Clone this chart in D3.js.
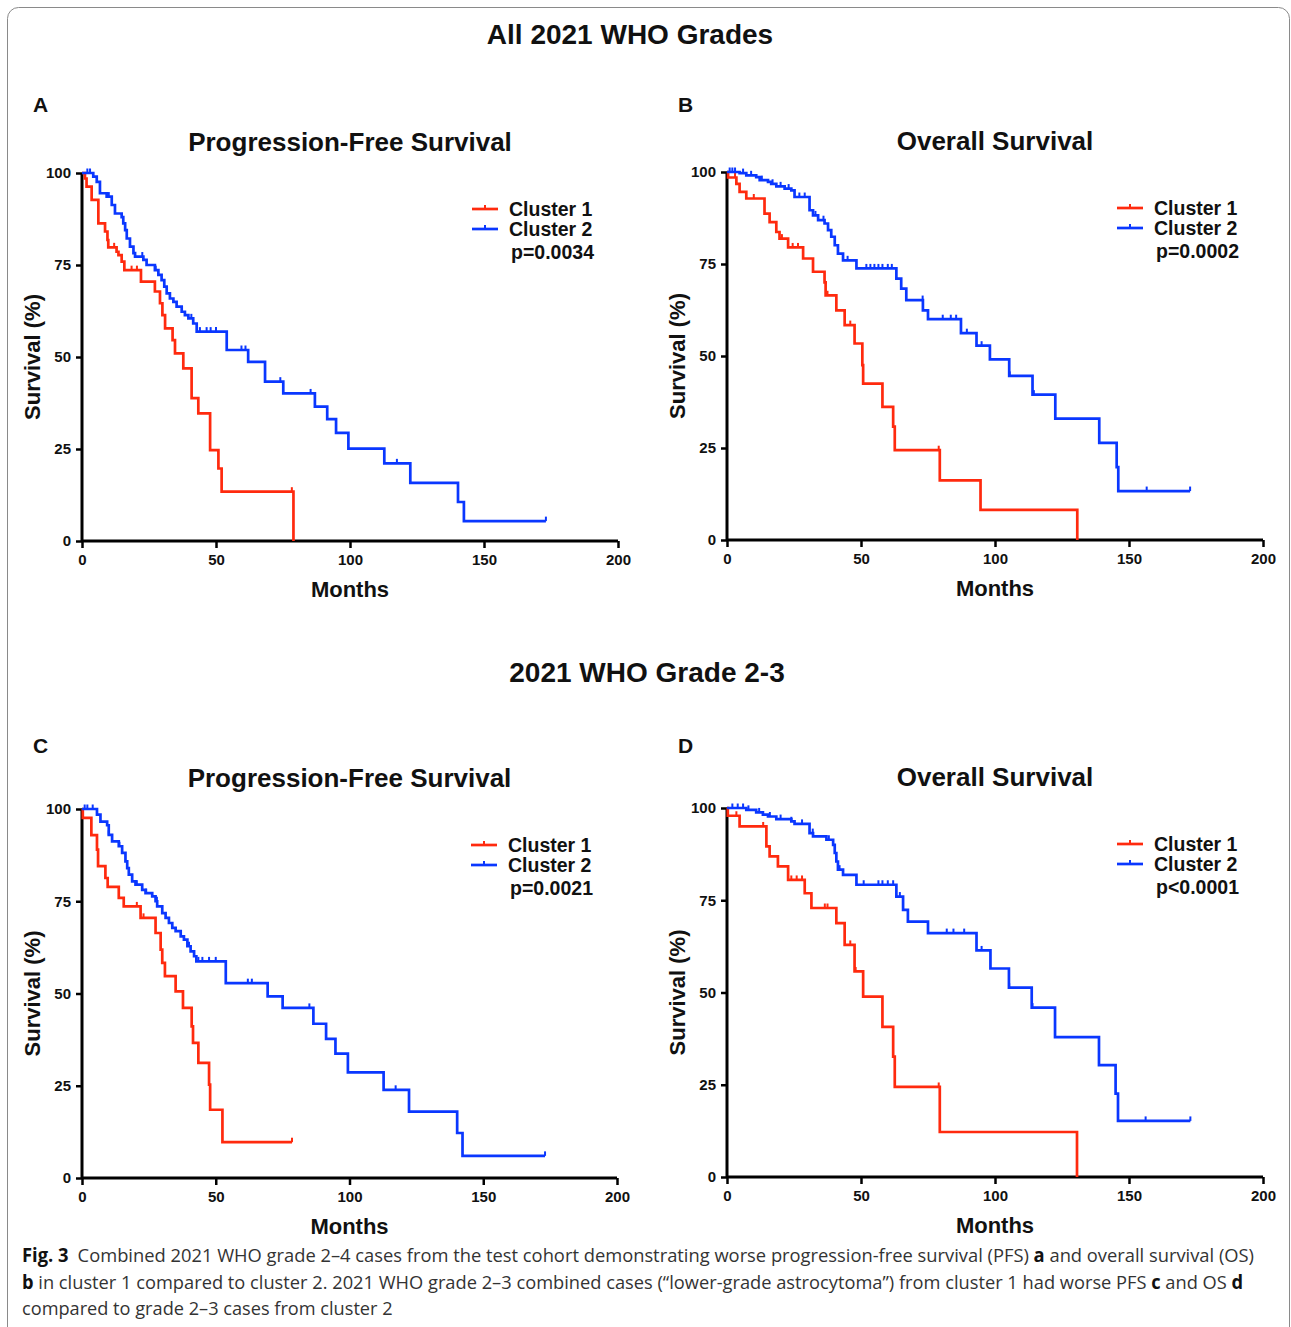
<!DOCTYPE html>
<html>
<head>
<meta charset="utf-8">
<script src="https://cdn.jsdelivr.net/npm/d3@7"></script>
<style>
  body { margin: 0; background: #fff; }
  svg text { font-family: 'Liberation Sans', Arial, Helvetica, sans-serif; fill: #111; }
</style>
</head>
<body>
<svg id="fig" width="1291" height="1327"></svg>
<script>
// x ticks / y ticks shared by all four panels
var xTicks = [0, 50, 100, 150, 200]
var yTicks = [0, 25, 50, 75, 100]
var seriesNames = ['Cluster 1', 'Cluster 2']

// Panel A: PFS, all grades  [months, survival %]
var pfsAllC1 = [[0, 100], [1.1, 98.5], [1.7, 96.3], [3.6, 92.7], [6.1, 86.3], [8.6, 84.1], [9.5, 81.8], [9.8, 79.8],
  [12.9, 78.6], [13.6, 77.7], [14.8, 75.9], [15.8, 73.6], [22, 70.5], [27.2, 67.8], [29.1, 64.6], [30, 61.4],
  [31, 57.8], [33.8, 54.6], [34.7, 51], [37.8, 46.9], [40.9, 38.8], [43.4, 34.7], [47.8, 24.7], [50.9, 19.7],
  [52.1, 13.4], [78.9, 0]]
var pfsAllC2 = [[0, 100], [4.2, 99], [5.5, 97.6], [6.7, 94.5], [9.2, 93.6], [11.1, 91.3], [12.3, 89], [14.8, 88],
  [15.4, 86.3], [16.1, 84.5], [16.7, 82.2], [17.9, 80], [19.2, 78.2], [19.8, 77.3], [22.9, 76.4], [24.1, 75],
  [27.2, 73.6], [28.5, 72.3], [29.7, 70.9], [30.7, 69.1], [31.6, 67.3], [32.8, 65.9], [34.1, 65], [35.3, 63.7],
  [37.2, 62.3], [38.4, 61.4], [39.7, 60.5], [41.5, 59.1], [42.8, 56.9], [54, 51.9], [62, 48.7], [68.3, 43.3],
  [75.1, 40.1], [86.9, 36.5], [91.5, 33.1], [94.8, 29.4], [99.4, 25.1], [112.8, 21.1], [122.5, 15.8],
  [140.3, 10.6], [142.5, 5.4], [173.1, 5.4]]
var pfsAllC1Censor = [12, 18.5, 20.5, 78.3]
var pfsAllC2Censor = [2, 3, 10, 22.5, 27.5, 40.8, 44, 46.5, 48, 50, 59.5, 61, 74, 85.3, 117.5, 173.1]

// Panel B: OS, all grades
var osAllC1 = [[0, 100], [0.4, 98.5], [3.5, 96.8], [4.7, 94.6], [7.2, 92.8], [14, 88.7], [15.9, 86.4], [18.4, 83.7],
  [19.6, 81.9], [22.8, 79.5], [28.4, 76.5], [32.1, 72.9], [36.4, 70], [36.8, 66.5], [40.8, 62.4], [43.9, 58.4],
  [47.6, 53.4], [50.5, 47.5], [50.8, 42.5], [58, 36.2], [62, 30.8], [62.6, 24.4], [79.4, 16.2], [94.6, 8.2],
  [130.7, 0]]
var osAllC2 = [[0, 100], [4.7, 99.7], [7.2, 99.1], [10.9, 98.6], [12.2, 97.8], [15.3, 97.3], [16.5, 96.8],
  [18.4, 96.1], [21.5, 95.5], [24, 95], [25.2, 93.2], [30.8, 89.6], [32.1, 88.2], [34, 86.9], [36.4, 86],
  [37.7, 84.2], [38.9, 82.4], [40.2, 80.1], [41.4, 77.8], [43.3, 76], [48.3, 73.8], [63.2, 71], [65, 68.3],
  [66.9, 65.2], [73.1, 62.4], [75, 60], [87.3, 56.2], [93.1, 52.8], [98.1, 49.1], [105.3, 44.6], [114, 39.5],
  [122.5, 33], [138.9, 26.4], [145.4, 19.8], [146, 13.3], [172.8, 13.3]]
var osAllC1Censor = [3, 10, 20.5, 24.5, 26.5, 37.5, 46, 79]
var osAllC2Censor = [1, 2, 3, 6, 9, 13, 17, 20, 23, 27, 29, 33, 36, 45, 52, 53.5, 55, 56.5, 58, 60, 61.5, 73,
  80.5, 83.5, 85.5, 89.5, 95, 105.5, 114.5, 156.6, 172.8]

// Panel C: PFS, grade 2-3
var pfsLowC1 = [[0, 100], [0.3, 97.6], [3.5, 92.9], [5.6, 89], [6, 84.5], [8.75, 81.3], [9.6, 78.9], [13.75, 75.9],
  [15.6, 73.6], [21.9, 70.5], [27.5, 66.4], [29.4, 61.9], [30, 58.3], [31, 54.7], [35, 50.6], [37.75, 46.1],
  [41, 41.1], [41.5, 36.6], [43.5, 31.2], [47.5, 25.3], [47.9, 18.5], [52.5, 9.7], [78.5, 9.7]]
var pfsLowC2 = [[0, 100], [5.6, 98.5], [6.9, 96.6], [9.4, 95.6], [10, 93], [11.25, 91.2], [13.75, 89.9], [15, 88.1],
  [16.25, 85.8], [16.9, 84], [17.5, 82.2], [18.75, 80.4], [20, 79.5], [22.5, 78.1], [23.75, 77.2], [26.25, 76.3],
  [27.5, 75], [28.1, 73.6], [30, 71.8], [31.25, 70.5], [32.5, 69.1], [33.75, 67.8], [35, 66.9], [36.9, 65.5],
  [38.1, 64.6], [39.4, 62.8], [40.6, 61.4], [41.9, 60.1], [42.75, 58.7], [53.75, 52.8], [69.4, 49.2], [75, 46.1],
  [86.5, 41.8], [91.25, 37.7], [94.75, 33.7], [99.4, 28.6], [112.75, 23.9], [122.25, 18], [140.25, 12.2],
  [142.25, 6], [173.1, 6]]
var pfsLowC1Censor = [20.5, 23, 78.5]
var pfsLowC2Censor = [1, 2, 4, 10, 14, 20.5, 24, 28, 40, 43.5, 45, 47.5, 50, 62, 63.5, 85, 117.25, 173.1]

// Panel D: OS, grade 2-3
var osLowC1 = [[0, 100], [0.3, 97.9], [4.7, 95], [14.7, 89.6], [15.9, 86.9], [19, 84.2], [22.8, 80.5], [29, 76.9],
  [31.5, 72.9], [40.8, 68.8], [43.9, 62.9], [47.6, 55.7], [50.8, 48.9], [58, 40.7], [62, 32.6], [62.6, 24.4],
  [79.4, 12.2], [130.6, 0]]
var osLowC2 = [[0, 100], [7.2, 99.5], [10.9, 98.8], [13.4, 98.2], [15.3, 97.7], [18.4, 97], [24, 96.4],
  [25.2, 95.7], [30.8, 93.2], [32.1, 92.3], [37.1, 91.4], [39.6, 90], [40.2, 87.8], [40.8, 85.5], [41.4, 83.3],
  [43.3, 81.9], [48.3, 79.2], [63.2, 76], [65.7, 72.4], [67.5, 69.2], [75, 66.1], [93.1, 61.4], [98.3, 56.5],
  [105.2, 51.3], [113.7, 45.9], [122.4, 37.9], [138.8, 30.3], [145, 22.6], [145.9, 15.2], [172.9, 15.2]]
var osLowC1Censor = [3.5, 13.5, 24, 26, 28, 36.5, 37.5, 46, 48, 79]
var osLowC2Censor = [2, 4, 6, 8, 12, 16, 20, 24, 28, 32, 38, 42, 51, 56.5, 58, 60, 62, 64.5, 82, 84.5, 88.5, 95,
  105.3, 114, 156.2, 172.9]

var colors = ['#ff2a0e', '#0a37ff']

var panels = [
  { letter: 'A', title: 'Progression-Free Survival', p: 'p=0.0034', x: 82, y: 173, w: 536, h: 368, ly: 112,
    series: [pfsAllC1, pfsAllC2], censor: [pfsAllC1Censor, pfsAllC2Censor] },
  { letter: 'B', title: 'Overall Survival', p: 'p=0.0002', x: 727, y: 172, w: 536, h: 368, ly: 112,
    series: [osAllC1, osAllC2], censor: [osAllC1Censor, osAllC2Censor] },
  { letter: 'C', title: 'Progression-Free Survival', p: 'p=0.0021', x: 82, y: 809, w: 535, h: 369, ly: 753,
    series: [pfsLowC1, pfsLowC2], censor: [pfsLowC1Censor, pfsLowC2Censor] },
  { letter: 'D', title: 'Overall Survival', p: 'p<0.0001', x: 727, y: 808, w: 536, h: 369, ly: 753,
    series: [osLowC1, osLowC2], censor: [osLowC1Censor, osLowC2Censor] }
]

var svg = d3.select('#fig')

// outer frame
svg.append('rect')
  .attr('x', 7.5).attr('y', 7.5)
  .attr('width', 1282).attr('height', 1340)
  .attr('rx', 11)
  .attr('fill', 'none')
  .attr('stroke', '#8a8a8a')
  .attr('stroke-width', 1)

svg.append('text')
  .attr('x', 630).attr('y', 44)
  .attr('text-anchor', 'middle')
  .style('font-size', '28px').style('font-weight', 'bold')
  .text('All 2021 WHO Grades')
svg.append('text')
  .attr('x', 647).attr('y', 682)
  .attr('text-anchor', 'middle')
  .style('font-size', '28px').style('font-weight', 'bold')
  .text('2021 WHO Grade 2-3')

function survivalAt(data, t) {
  var s = data[0][1]
  for (var i = 0; i < data.length; i++) {
    if (data[i][0] <= t) s = data[i][1]
  }
  return s
}

panels.forEach(function(pn) {
  var g = svg.append('g').attr('transform', 'translate(' + pn.x + ',' + pn.y + ')')
  var x = d3.scaleLinear().domain([0, 200]).range([0, pn.w])
  var y = d3.scaleLinear().domain([0, 100]).range([pn.h, 0])

  // panel letter and title
  g.append('text')
    .attr('x', -49).attr('y', pn.ly - pn.y)
    .style('font-size', '21px').style('font-weight', 'bold')
    .text(pn.letter)
  g.append('text')
    .attr('x', pn.w / 2).attr('y', -22)
    .attr('text-anchor', 'middle')
    .style('font-size', '26px').style('font-weight', 'bold')
    .text(pn.title)

  // axes
  var xAxis = g.append('g')
    .attr('transform', 'translate(0,' + pn.h + ')')
    .call(d3.axisBottom(x).tickValues(xTicks).tickSize(7).tickPadding(6))
  var yAxis = g.append('g')
    .call(d3.axisLeft(y).tickValues(yTicks).tickSize(6).tickPadding(5))
  ;[xAxis, yAxis].forEach(function(a) {
    a.attr('font-family', null)
    a.select('.domain').attr('stroke', '#000').attr('stroke-width', 3)
    a.selectAll('.tick line').attr('stroke', '#000').attr('stroke-width', 2.5)
    a.selectAll('.tick text')
      .style('font-size', '15px').style('font-weight', 'bold')
      .attr('fill', '#111')
  })
  xAxis.select('.domain').attr('d', 'M0,0H' + pn.w)
  yAxis.select('.domain').attr('d', 'M0,' + pn.h + 'V0')

  g.append('text')
    .attr('x', pn.w / 2).attr('y', pn.h + 56)
    .attr('text-anchor', 'middle')
    .style('font-size', '22px').style('font-weight', 'bold')
    .text('Months')
  g.append('text')
    .attr('transform', 'translate(-42,' + pn.h / 2 + ') rotate(-90)')
    .attr('text-anchor', 'middle')
    .style('font-size', '22px').style('font-weight', 'bold')
    .text('Survival (%)')

  // step curves
  var line = d3.line()
    .x(function(d) { return x(d[0]) })
    .y(function(d) { return y(d[1]) })
    .curve(d3.curveStepAfter)
  pn.series.forEach(function(data, i) {
    g.append('path')
      .datum(data)
      .attr('d', line)
      .attr('fill', 'none')
      .attr('stroke', colors[i])
      .attr('stroke-width', 2.7)
      .attr('stroke-linejoin', 'miter')
    g.append('g')
      .selectAll('line')
      .data(pn.censor[i])
      .enter()
      .append('line')
      .attr('x1', function(t) { return x(t) })
      .attr('x2', function(t) { return x(t) })
      .attr('y1', function(t) { return y(survivalAt(data, t)) })
      .attr('y2', function(t) { return y(survivalAt(data, t)) - 4.5 })
      .attr('stroke', colors[i])
      .attr('stroke-width', 2)
  })

  // legend
  var lg = g.append('g').attr('transform', 'translate(' + (pn.w - 146) + ',36)')
  seriesNames.forEach(function(name, i) {
    var ly = i * 20
    lg.append('line')
      .attr('x1', 0).attr('x2', 26)
      .attr('y1', ly).attr('y2', ly)
      .attr('stroke', colors[i]).attr('stroke-width', 2.7)
    lg.append('line')
      .attr('x1', 13).attr('x2', 13)
      .attr('y1', ly).attr('y2', ly - 4)
      .attr('stroke', colors[i]).attr('stroke-width', 2)
    lg.append('text')
      .attr('x', 37).attr('y', ly + 7)
      .style('font-size', '19.5px').style('font-weight', 'bold')
      .text(name)
  })
  lg.append('text')
    .attr('x', 122).attr('y', 50)
    .attr('text-anchor', 'end')
    .style('font-size', '19.5px').style('font-weight', 'bold')
    .text(pn.p)
})

// caption: each line is drawn naturally, then squeezed horizontally to the reference width
var captionLines = [
  [['Fig. 3', true], ['\u2002Combined 2021 WHO grade 2\u20134 cases from the test cohort demonstrating worse progression-free survival (PFS) ', false], ['a', true], [' and overall survival (OS)', false]],
  [['b', true], [' in cluster 1 compared to cluster 2. 2021 WHO grade 2\u20133 combined cases (\u201clower-grade astrocytoma\u201d) from cluster 1 had worse PFS ', false], ['c', true], [' and OS ', false], ['d', true]],
  [['compared to grade 2\u20133 cases from cluster 2', false]]
]
var captionWidths = [1233, 1222, 371]
captionLines.forEach(function(parts, i) {
  var cg = svg.append('g')
  var t = cg.append('text')
    .attr('x', 0).attr('y', 0)
    .style('font-size', '19px')
    .style('font-family', "'Open Sans', sans-serif")
  parts.forEach(function(p) {
    t.append('tspan')
      .style('font-weight', p[1] ? 'bold' : 'normal')
      .style('fill', p[1] ? '#111' : '#333')
      .text(p[0])
  })
  var natural = t.node().getComputedTextLength()
  var sx = captionWidths[i] / natural
  cg.attr('transform', 'translate(22,' + (1262 + i * 26.5) + ') scale(' + sx + ',1)')
})
</script>
</body>
</html>
